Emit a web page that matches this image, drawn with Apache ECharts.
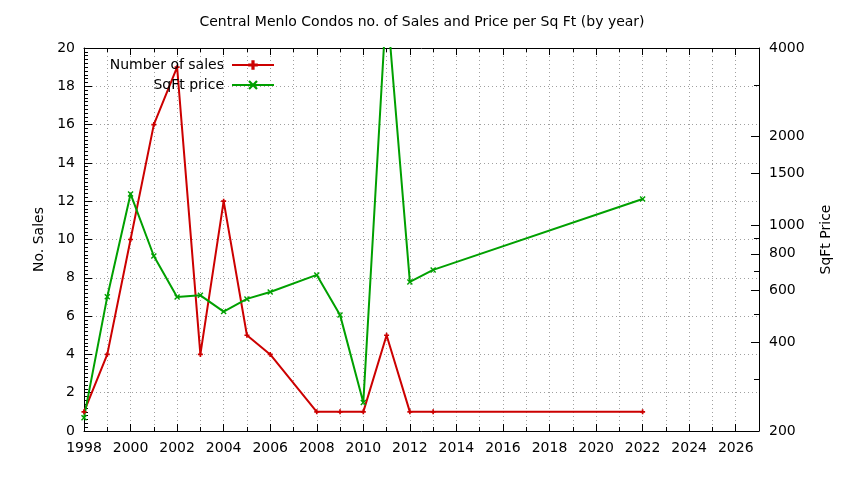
<!DOCTYPE html>
<html>
<head>
<meta charset="utf-8">
<script src="https://cdn.jsdelivr.net/npm/echarts@6/dist/echarts.min.js"></script>
<style>html,body{margin:0;padding:0;background:#fff}#c{width:844px;height:480px}</style>
</head>
<body>
<div id="c"></div>
<script>
const years = [1998,1999,2000,2001,2002,2003,2004,2005,2006,2008,2009,2010,2011,2012,2013,2022];
const sales = [1,4,10,16,19,4,12,5,4,1,1,1,5,1,1,1];
const price = [222,572,1277,786,570,578,509,562,593,678,496,250,5800,642,705,1228];
const priceTicks = [200,400,600,800,1000,1500,2000,4000];
const priceMinorTicks = [300,500,700,900,3000];

const FONT = 'DejaVu Sans';
const RED = '#cc0000', GREEN = '#00a000';
const plusPath = 'path://M2,0H4V2H6V4H4V6H2V4H0V2H2Z';
const xPath = 'path://M0,1L1,0L3,2L5,0L6,1L4,3L6,5L5,6L3,4L1,6L0,5L2,3Z';
const gridLine = {show: true, lineStyle: {color: '#a0a0a0', type: [1, 3], width: 1}};

const chart = echarts.init(document.getElementById('c'), null, {renderer: 'canvas'});
chart.setOption({
  animation: false,
  backgroundColor: '#fff',
  title: {
    text: 'Central Menlo Condos no. of Sales and Price per Sq Ft (by year)',
    left: 'center', top: 10,
    textStyle: {fontFamily: FONT, fontSize: 14, fontWeight: 'normal', color: '#000'}
  },
  legend: [
    {data: ['Number of sales'], right: 569, top: 58, padding: 0, align: 'right', itemWidth: 42, itemHeight: 12,
     textStyle: {fontFamily: FONT, fontSize: 14, color: '#000', padding: [0, 3, 0, 0]}},
    {data: ['SqFt price'], right: 569, top: 78, padding: 0, align: 'right', itemWidth: 42, itemHeight: 12,
     textStyle: {fontFamily: FONT, fontSize: 14, color: '#000', padding: [0, 3, 0, 0]}}
  ],
  grid: {left: 84, right: 85, top: 48, bottom: 49, containLabel: false},
  xAxis: [
    {type: 'value', min: 1998, max: 2027, interval: 2, position: 'bottom',
     axisLine: {show: true, onZero: false, lineStyle: {color: '#000', width: 1}},
     axisTick: {show: true, inside: true, length: 7, lineStyle: {color: '#000'}},
     minorTick: {show: true, splitNumber: 2, length: 4, lineStyle: {color: '#000'}},
     splitLine: gridLine,
     minorSplitLine: gridLine,
     axisLabel: {fontFamily: FONT, fontSize: 14, color: '#000', margin: 10, formatter: v => String(v)}},
    {type: 'value', min: 1998, max: 2027, interval: 2, position: 'top',
     axisLine: {show: true, onZero: false, lineStyle: {color: '#000', width: 1}},
     axisTick: {show: true, inside: true, length: 7, lineStyle: {color: '#000'}},
     minorTick: {show: true, splitNumber: 2, length: 4, lineStyle: {color: '#000'}},
     splitLine: {show: false}, axisLabel: {show: false}}
  ],
  yAxis: [
    {type: 'value', min: 0, max: 20, interval: 2, position: 'left',
     name: 'No. Sales', nameLocation: 'middle', nameGap: 34, nameRotate: 90,
     nameTextStyle: {fontFamily: FONT, fontSize: 14, color: '#000'},
     axisLine: {show: true, onZero: false, lineStyle: {color: '#000', width: 1}},
     axisTick: {show: true, inside: true, length: 8, lineStyle: {color: '#000'}},
     minorTick: {show: true, splitNumber: 10, length: 4, lineStyle: {color: '#000'}},
     splitLine: gridLine,
     axisLabel: {fontFamily: FONT, fontSize: 14, color: '#000', margin: 9}},
    {type: 'log', logBase: 10, min: 200, max: 4000, position: 'right',
     name: 'SqFt Price', nameLocation: 'middle', nameGap: 60, nameRotate: 90,
     nameTextStyle: {fontFamily: FONT, fontSize: 14, color: '#000'},
     axisLine: {show: true, onZero: false, lineStyle: {color: '#000', width: 1}},
     axisTick: {show: true, inside: true, length: 8, customValues: priceTicks, lineStyle: {color: '#000'}},
     splitLine: {show: false}, minorTick: {show: false},
     axisLabel: {fontFamily: FONT, fontSize: 14, color: '#000', margin: 10, customValues: priceTicks,
                 formatter: v => String(Math.round(v))}},
    {type: 'log', logBase: 10, min: 200, max: 4000, position: 'right',
     axisLine: {show: false},
     axisTick: {show: true, inside: true, length: 5, customValues: priceMinorTicks, lineStyle: {color: '#000'}},
     splitLine: {show: false}, minorTick: {show: false},
     axisLabel: {show: false}}
  ],
  series: [
    {name: 'Number of sales', type: 'line', xAxisIndex: 0, yAxisIndex: 0,
     data: years.map((y, i) => [y, sales[i]]),
     symbol: plusPath, symbolSize: 5, showAllSymbol: true,
     lineStyle: {color: RED, width: 2}, itemStyle: {color: RED}},
    {name: 'SqFt price', type: 'line', xAxisIndex: 0, yAxisIndex: 1,
     data: years.map((y, i) => [y, price[i]]),
     symbol: xPath, symbolSize: 6, showAllSymbol: true, clip: true,
     lineStyle: {color: GREEN, width: 2}, itemStyle: {color: GREEN}}
  ]
});
</script>
</body>
</html>
